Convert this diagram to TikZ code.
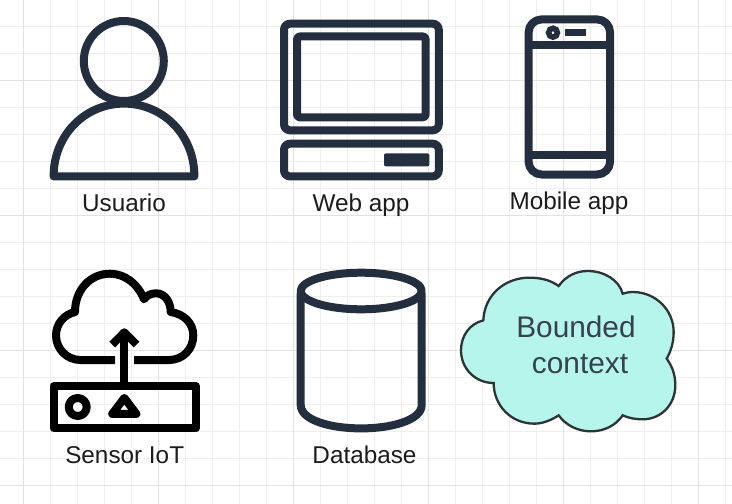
\documentclass[tikz,border=0pt]{standalone}
\usepackage{fontspec}
\setmainfont{Liberation Sans}
\definecolor{navyicon}{HTML}{232F3E}
\definecolor{gridmajor}{HTML}{E2E2E2}
\definecolor{gridminor}{HTML}{EEEEEE}
\definecolor{cloudfill}{HTML}{B5F5EC}
\definecolor{cloudline}{HTML}{2D3436}
\definecolor{labeltext}{HTML}{1C1C1C}
\definecolor{cloudtext}{HTML}{36414C}
\tikzset{
  navy/.style={draw=navyicon,line width=8pt,line join=round},
  blackicon/.style={draw=black,line width=8pt,line join=round},
  caption/.style={text=labeltext,anchor=base,inner sep=0pt,font=\fontsize{24.3}{28}\selectfont},
  cloudcaption/.style={text=cloudtext,anchor=base,inner sep=0pt,font=\fontsize{29.8}{34}\selectfont}
}
\begin{document}
\begin{tikzpicture}[x=1pt,y=-1pt]
\useasboundingbox (0,0) rectangle (732,504);
\fill[white] (0,0) rectangle (732,504);
% grid
\foreach \i in {0,...,27} {\draw[gridminor,line width=1pt] ({23.4+27*\i},0) -- ({23.4+27*\i},504);}
\foreach \i in {0,...,18} {\draw[gridminor,line width=1pt] (0,{-0.7+27*\i}) -- (732,{-0.7+27*\i});}
\foreach \i in {0,...,5} {\draw[gridmajor,line width=1pt] ({23.4+135*\i},0) -- ({23.4+135*\i},504);}
\foreach \i in {0,...,3} {\draw[gridmajor,line width=1pt] (0,{80.3+135*\i}) -- (732,{80.3+135*\i});}
% person
\draw[navy] (123.8,61) circle (40);
\draw[navy] (53.6,176.4) .. controls (53.6,135) and (85,103.6) .. (124,103.6) .. controls (163,103.6) and (194.4,135) .. (194.4,176.4) -- cycle;
% computer
\draw[navy,rounded corners=6pt] (284,23.7) rectangle (438.8,130.3);
\draw[navy,rounded corners=3pt] (297,36.4) rectangle (425.7,117.4);
\draw[navy,rounded corners=6pt] (284,143.7) rectangle (438.8,176.4);
\fill[navyicon,rounded corners=2pt] (384,153.3) rectangle (429.4,166.4);
% phone
\draw[navy,rounded corners=13pt] (528.6,19.4) rectangle (610.1,174.5);
\draw[navy] (528.6,44.7) -- (610.1,44.7);
\draw[navy] (528.6,155.2) -- (610.1,155.2);
\draw[draw=navyicon,line width=5.6pt] (553,32.7) circle (4.4);
\fill[navyicon] (565.3,29) rectangle (585.7,36);
% sensor
\draw[blackicon] (53.6,386) rectangle (195.8,428.4);
\draw[blackicon] (77.7,407) circle (9);
\draw[blackicon] (124.3,397.9) -- (136.4,413.9) -- (112.2,413.9) -- cycle;
\draw[blackicon] (124.3,386) -- (124.3,334);
\draw[blackicon] (112.3,344.6) -- (124.3,332.3) -- (136.6,344.6);
\draw[blackicon,line cap=butt] (115,360) -- (80.6,360) .. controls (67,360) and (56,349) .. (56,335.3) .. controls (56,324) and (64,314.5) .. (75,312) .. controls (75,290) and (90,273.7) .. (110,273.7) .. controls (125,273.7) and (138,284) .. (144,299.3) .. controls (146.5,295.5) and (151,293.3) .. (156,293.3) .. controls (165,293.3) and (170.7,302) .. (170.7,312) .. controls (184,314) and (193.3,323) .. (193.3,335.5) .. controls (193.3,349) and (183,360) .. (169,360) -- (134,360);
% database
\draw[navy] (361.2,291) ellipse [x radius=60.5,y radius=18.3];
\draw[navy] (300.7,293) -- (300.7,405) .. controls (300.7,420) and (330,428.4) .. (361.2,428.4) .. controls (392,428.4) and (421.7,420) .. (421.7,405) -- (421.7,293);
% bounded context cloud
\begin{scope}[shift={(366,252)},x=0.33333pt,y=-0.33333pt]
\draw[fill=cloudfill,draw=cloudline,line width=2.3pt]
 (578,102) .. controls (600,72) and (630,57) .. (665,57) .. controls (715,57) and (760,85) .. (770,125)
 .. controls (785,121) and (790,120) .. (800,120) .. controls (870,120) and (923,175) .. (923,240)
 .. controls (923,270) and (915,297) .. (902,320) .. controls (920,345) and (928,370) .. (928,400)
 .. controls (928,458) and (885,502) .. (830,502) .. controls (808,502) and (788,498) .. (770,490)
 .. controls (750,520) and (715,538) .. (675,538) .. controls (635,538) and (600,520) .. (578,490)
 .. controls (555,505) and (530,515) .. (505,515) .. controls (435,515) and (383,460) .. (383,393)
 .. controls (328,393) and (285,350) .. (285,295) .. controls (285,250) and (312,215) .. (352,205)
 .. controls (355,130) and (415,77) .. (490,77) .. controls (525,77) and (555,85) .. (578,102) -- cycle;
\end{scope}
% labels
\node[caption] (usuario) at (124,211) {Usuario};
\node[caption] (webapp) at (361,211) {Web app};
\node[caption] (mobileapp) at (569,209.3) {Mobile app};
\node[caption] (sensor) at (124.7,463) {Sensor IoT};
\node[caption] (database) at (364.5,463) {Database};
\node[cloudcaption] (bounded) at (576,337.3) {Bounded};
\node[cloudcaption] (context) at (580,373.3) {context};
\end{tikzpicture}
\end{document}
